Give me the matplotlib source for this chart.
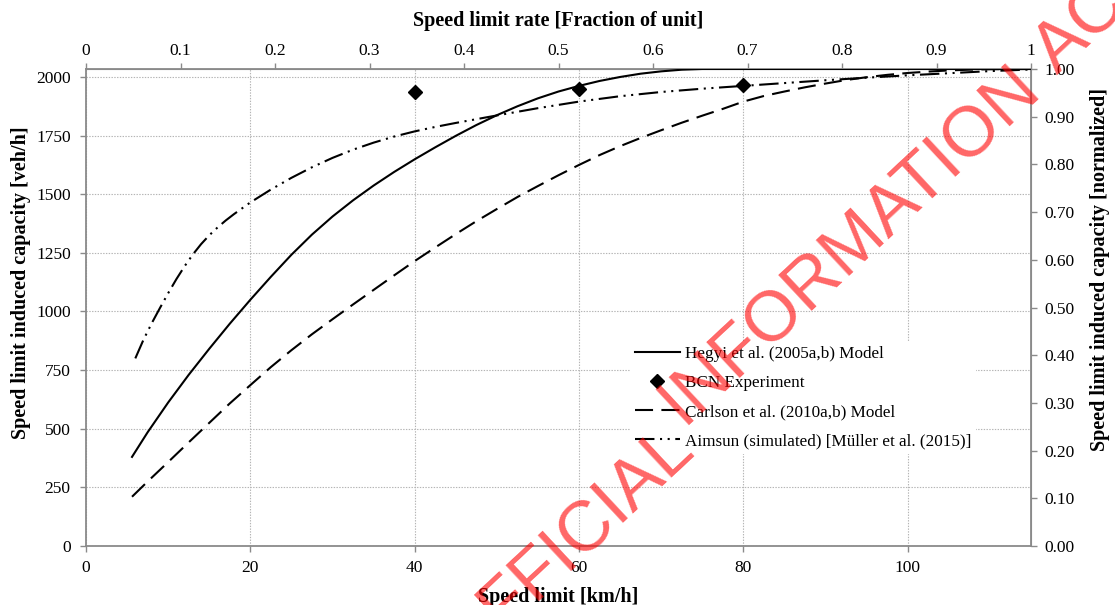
import matplotlib
matplotlib.use("Agg")
import matplotlib.pyplot as plt
from matplotlib.ticker import FixedLocator, FuncFormatter

plt.rcParams['font.family'] = ['Liberation Serif', 'DejaVu Serif']
plt.rcParams['lines.scale_dashes'] = False

# ---- data ----
hegyi_x = [5.6, 7.5, 10, 12.5, 15, 17.5, 20, 22.5, 25, 27.5, 30, 32.5, 35, 37.5, 40, 42.5, 45, 47.5,
           50, 52.5, 55, 57.5, 60, 62.5, 65, 67.5, 70, 72.5, 75, 80, 115]
hegyi_y = [380, 485, 612, 730, 841, 948, 1050, 1148, 1242, 1328, 1405, 1474, 1537, 1595, 1649, 1700,
           1749, 1795, 1837, 1875, 1909, 1938, 1962, 1983, 2000, 2014, 2024, 2031, 2034, 2034, 2034]

carlson_x = [5.6, 7.5, 10, 12.5, 15, 17.5, 20, 22.5, 25, 27.5, 30, 32.5, 35, 37.5, 40, 42.5, 45, 47.5,
             50, 52.5, 55, 57.5, 60, 62.5, 65, 67.5, 70, 72.5, 75, 77.5, 80, 82.5, 85, 87.5, 90, 92.5,
             95, 97.5, 100, 102.5, 105, 107.5, 110, 115]
carlson_y = [210, 275, 358, 442, 525, 608, 686, 763, 835, 903, 967, 1030, 1092, 1154, 1215, 1273, 1330,
             1385, 1437, 1488, 1535, 1581, 1625, 1667, 1705, 1740, 1773, 1805, 1835, 1864, 1895, 1919,
             1938, 1956, 1972, 1987, 1999, 2009, 2017, 2023, 2028, 2031, 2033, 2034]

aimsun_x = [6, 7, 8, 9, 10, 11, 12, 13, 14, 15, 16, 17, 18, 20, 22.5, 25, 27.5, 30, 32.5, 35, 37.5, 40,
            42.5, 45, 47.5, 50, 55, 60, 65, 70, 75, 80, 85, 90, 95, 100, 105, 110, 115]
aimsun_y = [800, 880, 950, 1015, 1078, 1138, 1193, 1243, 1287, 1325, 1358, 1388, 1415, 1465, 1520, 1570,
            1615, 1655, 1690, 1720, 1746, 1768, 1787, 1804, 1820, 1836, 1867, 1895, 1918, 1936, 1950,
            1962, 1974, 1986, 1997, 2007, 2016, 2025, 2032]

bcn_x = [40, 60, 80]
bcn_y = [1938, 1950, 1965]

x_max = 115.0
y_max = 2034.0
bottom_ticks = [0, 20, 40, 60, 80, 100]
left_ticks = [0, 250, 500, 750, 1000, 1250, 1500, 1750, 2000]
top_ticks = [0, 0.1, 0.2, 0.3, 0.4, 0.5, 0.6, 0.7, 0.8, 0.9, 1.0]
right_ticks = [0, 0.1, 0.2, 0.3, 0.4, 0.5, 0.6, 0.7, 0.8, 0.9, 1.0]

W, H = 1115, 605
fig = plt.figure(figsize=(W / 100, H / 100), dpi=100)
ax = fig.add_axes([86 / W, 1 - 546 / H, (1031 - 86) / W, (546 - 69) / H])

spine_c = '#8a8a8a'
for s in ax.spines.values():
    s.set_color(spine_c)
    s.set_linewidth(1.3)

ax.set_xlim(0, x_max)
ax.set_ylim(0, y_max)
ax.set_xticks(bottom_ticks)
ax.set_yticks(left_ticks)
ax.grid(True, color='#b5b5b5', linestyle=(0, (1, 1)), linewidth=0.8)
ax.set_axisbelow(True)
ax.tick_params(axis='both', labelsize=12.5, color=spine_c, length=4, width=1.0, direction='out')
ax.tick_params(axis='y', pad=7)
ax.tick_params(axis='x', pad=6)

lw = 1.5
ax.plot(hegyi_x, hegyi_y, color='black', lw=lw, label='Hegyi et al. (2005a,b) Model', zorder=3)
ax.plot(bcn_x, bcn_y, linestyle='none', marker='D', markersize=7, color='black',
        label='BCN Experiment', zorder=4)
ax.plot(carlson_x, carlson_y, color='black', lw=lw, linestyle=(0, (13, 6)),
        label='Carlson et al. (2010a,b) Model', zorder=3)
ax.plot(aimsun_x, aimsun_y, color='black', lw=lw, linestyle=(0, (14, 4, 1.5, 4, 1.5, 4)),
        label='Aimsun (simulated) [Müller et al. (2015)]', zorder=3)

lab_fs = 14.5
ax.set_xlabel('Speed limit [km/h]', fontsize=lab_fs, fontweight='bold', labelpad=8)
ax.set_ylabel('Speed limit induced capacity [veh/h]', fontsize=lab_fs, fontweight='bold')
ax.yaxis.set_label_coords(-0.058, 0.551)

secx = ax.secondary_xaxis('top', functions=(lambda v: v / x_max, lambda f: f * x_max))
secx.xaxis.set_major_locator(FixedLocator(top_ticks))
secx.xaxis.set_major_formatter(FuncFormatter(
    lambda v, p: '0' if abs(v) < 1e-9 else ('1' if abs(v - 1) < 1e-9 else f'{v:.1f}')))
secx.tick_params(labelsize=12.5, color=spine_c, length=4, width=1.0)
secx.spines['top'].set_color(spine_c)
secx.set_xlabel('Speed limit rate [Fraction of unit]', fontsize=lab_fs, fontweight='bold', labelpad=12)

secy = ax.secondary_yaxis('right', functions=(lambda v: v / y_max, lambda f: f * y_max))
secy.yaxis.set_major_locator(FixedLocator(right_ticks))
secy.yaxis.set_major_formatter(FuncFormatter(lambda v, p: f'{v:.2f}'))
secy.tick_params(labelsize=12.5, color=spine_c, length=4, width=1.0, pad=5.5)
secy.spines['right'].set_color(spine_c)
secy.set_ylabel('Speed limit induced capacity [normalized]', fontsize=lab_fs, fontweight='bold')
secy.yaxis.set_label_coords(1.0624, 0.579, transform=ax.transAxes)

leg = ax.legend(loc='upper left', bbox_to_anchor=(630 / W, 1 - 341 / H), bbox_transform=fig.transFigure,
                frameon=True, fancybox=False, edgecolor='none', facecolor='white', framealpha=1,
                fontsize=12.3, handlelength=2.6, handletextpad=0.3, labelspacing=0.76,
                borderpad=0.3, borderaxespad=0)

# watermark
wm_kw = dict(color='red', alpha=0.6, fontsize=51, family=['Liberation Sans', 'DejaVu Sans'],
             rotation=43, rotation_mode='anchor', ha='center', va='center', zorder=10)
fig.text(851 / W, 1 - 245 / H, 'INFORMATION', **wm_kw)
fig.text(568 / W, 1 - 548 / H, 'OFFICIAL', **wm_kw)
fig.text(1152 / W, 1 - (-37) / H, 'ACCESS', **wm_kw)

fig.savefig('out.png', dpi=100)
